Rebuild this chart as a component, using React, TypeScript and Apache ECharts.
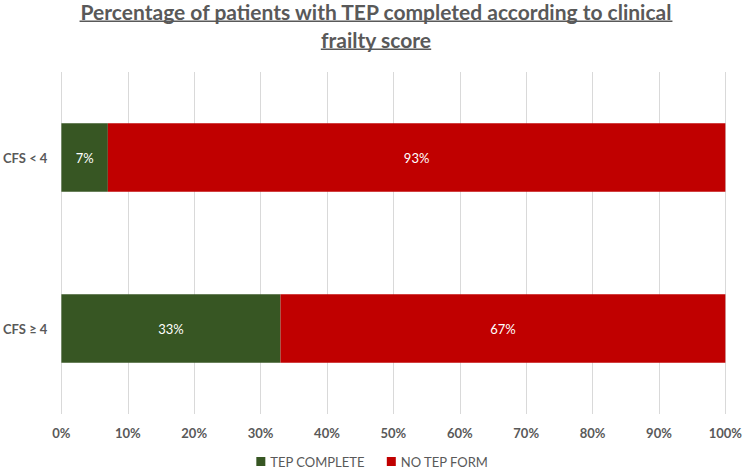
import React, { useEffect, useRef } from "react";
import * as echarts from "echarts";

const categories = ["CFS ≥ 4", "CFS < 4"];
const tepComplete = [33, 7];
const noTepForm = [67, 93];
const seriesNames = ["TEP COMPLETE", "NO TEP FORM"];
const titleLines = [
  "Percentage of patients with TEP completed according to clinical",
  "frailty score",
];

export default function App() {
  const ref = useRef<HTMLDivElement>(null);
  useEffect(() => {
    if (!ref.current) return;
    const chart = echarts.init(ref.current, undefined, { renderer: "svg" });
    const font = "Lato, 'Open Sans', sans-serif";
    const titleFont = `bold 21px ${font}`;
    const gray = "#595959";
    const ctx = document.createElement("canvas").getContext("2d");
    const measure = (t: string) => {
      if (!ctx) return t.length * 9.5;
      ctx.font = titleFont;
      return ctx.measureText(t).width;
    };
    const cx = 376;
    const w1 = measure(titleLines[0]);
    const w2 = measure(titleLines[1]);
    chart.setOption({
      animation: false,
      textStyle: { fontFamily: font },
      graphic: [
        {
          type: "text",
          x: cx,
          y: 22,
          style: { text: titleLines[0], font: titleFont, fill: gray, textAlign: "center", textVerticalAlign: "bottom" },
        },
        {
          type: "text",
          x: cx,
          y: 50,
          style: { text: titleLines[1], font: titleFont, fill: gray, textAlign: "center", textVerticalAlign: "bottom" },
        },
        { type: "rect", shape: { x: cx - w1 / 2, y: 20.5, width: w1, height: 1.5 }, style: { fill: gray } },
        { type: "rect", shape: { x: cx - w2 / 2, y: 48.5, width: w2, height: 1.5 }, style: { fill: gray } },
      ],
      legend: {
        bottom: 0,
        left: "center",
        itemWidth: 9,
        itemHeight: 9,
        itemGap: 22,
        icon: "rect",
        textStyle: { color: gray, fontSize: 13, fontFamily: font },
        data: seriesNames,
      },
      grid: { left: 58, right: 18, top: 72, bottom: 59, containLabel: false },
      xAxis: {
        type: "value",
        min: 0,
        max: 100,
        interval: 10,
        axisLabel: {
          formatter: "{value}%",
          color: gray,
          fontSize: 13,
          fontWeight: "bold",
          margin: 12,
          fontFamily: font,
        },
        axisLine: { show: false },
        axisTick: { show: false },
        splitLine: { lineStyle: { color: "#D9D9D9", width: 1 } },
      },
      yAxis: {
        type: "category",
        data: categories,
        axisLabel: { color: gray, fontSize: 13, fontWeight: "bold", margin: 14, fontFamily: font },
        axisLine: { show: false },
        axisTick: { show: false },
      },
      series: [
        {
          name: seriesNames[0],
          type: "bar",
          stack: "total",
          data: tepComplete,
          barCategoryGap: "60%",
          itemStyle: { color: "#375623" },
          label: {
            show: true,
            position: "inside",
            formatter: "{c}%",
            color: "#fff",
            fontSize: 13,
            fontFamily: font,
          },
        },
        {
          name: seriesNames[1],
          type: "bar",
          stack: "total",
          data: noTepForm,
          barCategoryGap: "60%",
          itemStyle: { color: "#C00000" },
          label: {
            show: true,
            position: "inside",
            formatter: "{c}%",
            color: "#fff",
            fontSize: 13,
            fontFamily: font,
          },
        },
      ],
    });
    return () => chart.dispose();
  }, []);
  return (
    <div
      ref={ref}
      style={{ position: "absolute", left: 0, top: 0, width: 745, height: 473 }}
    />
  );
}
